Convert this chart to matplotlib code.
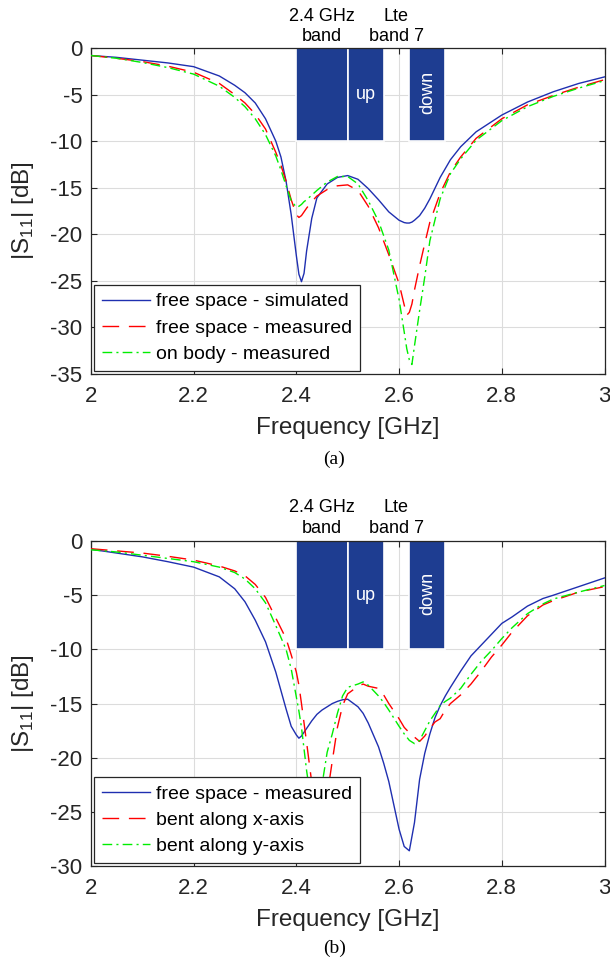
import matplotlib
matplotlib.use('Agg')
import matplotlib.pyplot as plt
import matplotlib.transforms as mtransforms

plt.rcParams['font.family'] = ['Liberation Sans', 'DejaVu Sans']
plt.rcParams['axes.unicode_minus'] = False

# ---- panel (a) data ----
freq_a = [2.0, 2.05, 2.1, 2.15, 2.2, 2.25, 2.28, 2.3, 2.32, 2.34, 2.36, 2.37,
          2.38, 2.39, 2.4, 2.405, 2.41, 2.415, 2.42, 2.43, 2.44, 2.46, 2.48,
          2.5, 2.52, 2.54, 2.56, 2.58, 2.6, 2.61, 2.615, 2.62, 2.625, 2.63,
          2.64, 2.65, 2.66, 2.68, 2.7, 2.72, 2.75, 2.8, 2.85, 2.9, 2.95, 3.0]
sim_free = [-0.8, -1.0, -1.3, -1.6, -2.0, -3.0, -4.0, -4.8, -5.9, -7.6, -10.0, -11.7,
            -14.3, -17.9, -22.3, -24.3, -25.1, -24.2, -21.8, -18.3, -16.1, -14.6, -13.9,
            -13.7, -14.1, -15.1, -16.3, -17.6, -18.5, -18.75, -18.8, -18.8, -18.7, -18.5,
            -18.0, -17.2, -16.2, -13.9, -12.0, -10.6, -9.0, -7.2, -5.8, -4.7, -3.8, -3.1]
meas_free_a = [-0.8, -1.1, -1.45, -1.95, -2.6, -3.8, -5.0, -5.9, -7.1, -8.7, -11.2, -12.6,
               -14.3, -16.3, -17.9, -18.2, -18.0, -17.6, -17.2, -16.5, -15.9, -15.2, -14.8,
               -14.7, -15.3, -17.0, -19.3, -22.2, -25.3, -27.6, -28.7, -28.4, -27.5, -26.0,
               -23.4, -21.0, -18.7, -15.6, -13.3, -11.7, -9.7, -7.6, -6.1, -5.1, -4.2, -3.4]
meas_body = [-0.8, -1.1, -1.55, -2.1, -2.8, -4.1, -5.3, -6.3, -7.6, -9.3, -11.6, -13.1,
             -14.8, -16.4, -17.1, -17.0, -16.8, -16.5, -16.3, -15.8, -15.3, -14.4, -13.8,
             -13.8, -14.6, -16.4, -18.6, -21.7, -27.0, -30.5, -32.3, -33.5, -34.0, -32.0,
             -28.2, -24.6, -20.7, -16.2, -13.5, -11.9, -9.9, -7.8, -6.3, -5.2, -4.3, -3.5]

# ---- panel (b) data ----
freq_b = [2.0, 2.05, 2.1, 2.15, 2.2, 2.25, 2.28, 2.3, 2.32, 2.34, 2.36, 2.38, 2.39,
          2.4, 2.405, 2.41, 2.42, 2.43, 2.44, 2.45, 2.46, 2.47, 2.48, 2.49, 2.5,
          2.52, 2.53, 2.54, 2.56, 2.57, 2.58, 2.6, 2.61, 2.62, 2.63, 2.64, 2.65,
          2.66, 2.67, 2.68, 2.69, 2.7, 2.72, 2.74, 2.76, 2.78, 2.8, 2.82, 2.85,
          2.88, 2.9, 2.95, 3.0]
meas_free_b = [-0.75, -1.1, -1.45, -1.9, -2.4, -3.3, -4.4, -5.6, -7.3, -9.3, -12.1, -15.5, -17.1,
               -17.9, -18.2, -18.0, -17.3, -16.6, -16.0, -15.6, -15.3, -15.0, -14.8, -14.65, -14.6,
               -15.3, -15.9, -16.8, -19.0, -20.5, -22.2, -26.6, -28.2, -28.6, -26.0, -22.0, -19.6,
               -17.8, -16.3, -15.2, -14.3, -13.5, -12.0, -10.6, -9.6, -8.6, -7.6, -7.0, -6.0,
               -5.3, -5.0, -4.2, -3.4]
bent_x = [-0.7, -0.9, -1.1, -1.4, -1.75, -2.3, -2.75, -3.2, -4.0, -5.2, -7.1, -9.0, -10.5,
          -12.1, -13.3, -15.0, -18.6, -22.3, -25.5, -26.5, -23.5, -20.3, -17.2, -15.2, -14.1,
          -13.4, -13.2, -13.4, -13.6, -14.2, -15.0, -16.4, -17.2, -17.7, -18.1, -18.5, -18.0,
          -17.3, -16.7, -16.4, -15.6, -15.0, -14.2, -13.2, -12.0, -10.7, -9.6, -8.4, -6.9,
          -5.9, -5.5, -4.7, -4.2]
bent_y = [-0.8, -1.0, -1.3, -1.6, -1.9, -2.4, -2.9, -3.5, -4.4, -5.7, -7.8, -10.0, -11.8,
          -14.4, -15.7, -17.2, -21.2, -24.5, -26.0, -22.5, -19.5, -17.8, -15.9, -14.3, -13.5,
          -13.2, -13.0, -13.3, -14.3, -14.9, -15.6, -17.1, -17.8, -18.4, -18.7, -18.4, -17.5,
          -16.6, -15.9, -15.2, -14.8, -14.5, -13.6, -12.3, -11.1, -10.1, -9.0, -8.0, -6.7,
          -5.8, -5.35, -4.7, -4.1]

# ---- frequency bands ----
band_start = [2.4, 2.5, 2.62]
band_end = [2.5, 2.57, 2.69]
band_top = 0
band_bottom = -10

x_ticks = [2.0, 2.2, 2.4, 2.6, 2.8, 3.0]
x_tick_labels = ['2', '2.2', '2.4', '2.6', '2.8', '3']

labels_a = ['free space - simulated', 'free space - measured', 'on body - measured']
labels_b = ['free space - measured', 'bent along x-axis', 'bent along y-axis']

band_color = '#1e3d91'
line_colors = ['#1f2fb0', '#ff0000', '#00ee00']


def draw_panel(fig, ax, freq, curves, labels, ymin, caption, caption_y, band_text_y):
    ax.bar(band_start, [band_top - band_bottom] * 3,
           width=[e - s for s, e in zip(band_start, band_end)],
           bottom=band_bottom, align='edge', color=band_color,
           edgecolor='white', linewidth=1.2, zorder=2)
    ax.text((band_start[1] + band_end[1]) / 2, -5, 'up', color='white',
            fontsize=13, ha='center', va='center', zorder=3)
    ax.text((band_start[2] + band_end[2]) / 2, -4.8, 'down', color='white',
            fontsize=13, ha='center', va='center', rotation=90, zorder=3)

    trans = mtransforms.blended_transform_factory(ax.transData, fig.transFigure)
    ax.text(2.45, band_text_y, '2.4 GHz\nband', transform=trans, fontsize=13,
            ha='center', va='center', linespacing=1.3)
    ax.text(2.595, band_text_y, 'Lte\nband 7', transform=trans, fontsize=13,
            ha='center', va='center', linespacing=1.3)

    ax.plot(freq, curves[0], color=line_colors[0], lw=1.0, label=labels[0], zorder=3)
    ax.plot(freq, curves[1], color=line_colors[1], lw=1.0, dashes=(12, 7),
            label=labels[1], zorder=3)
    ax.plot(freq, curves[2], color=line_colors[2], lw=1.0, dashes=(7, 3, 1.5, 3),
            label=labels[2], zorder=3)

    ax.set_xlim(2, 3)
    ax.set_ylim(ymin, 0)
    ax.set_xticks(x_ticks)
    ax.set_xticklabels(x_tick_labels)
    yt = list(range(ymin, 1, 5))
    ax.set_yticks(yt)
    ax.set_yticklabels([str(v) for v in yt])
    ax.set_axisbelow(True)
    ax.grid(True, color='#dcdcdc', linewidth=0.8)
    ax.tick_params(direction='in', top=True, right=True, length=4,
                   labelsize=16, colors='#262626')
    ax.tick_params(axis='x', pad=9)
    ax.tick_params(axis='y', pad=6)
    for sp in ax.spines.values():
        sp.set_color('#262626')
        sp.set_linewidth(0.9)
    ax.set_xlabel('Frequency [GHz]', fontsize=17.5, labelpad=7, color='#262626')
    ax.set_ylabel(r'|S$_{\mathregular{11}}$| [dB]', fontsize=17.5, labelpad=10,
                  color='#262626')

    leg = ax.legend(loc='lower left', fontsize=14, fancybox=False, framealpha=1,
                    edgecolor='#262626', borderaxespad=0.15, handlelength=2.5,
                    handletextpad=0.3, labelspacing=0.45, borderpad=0.4)
    leg.get_frame().set_linewidth(0.9)
    leg.set_zorder(5)

    fig.text(0.548, caption_y, caption, fontsize=14, family='Liberation Serif',
             ha='center', va='center')


fig = plt.figure(figsize=(6.1, 9.61), dpi=100)
ax_a = fig.add_axes([0.149, 0.611, 0.842, 0.339])
ax_b = fig.add_axes([0.149, 0.0989, 0.842, 0.338])

draw_panel(fig, ax_a, freq_a, [sim_free, meas_free_a, meas_body], labels_a,
           -35, '(a)', 1 - 459 / 961, 1 - 26.5 / 961)
draw_panel(fig, ax_b, freq_b, [meas_free_b, bent_x, bent_y], labels_b,
           -30, '(b)', 1 - 948 / 961, 1 - 518 / 961)

fig.savefig('out.png', dpi=100)
